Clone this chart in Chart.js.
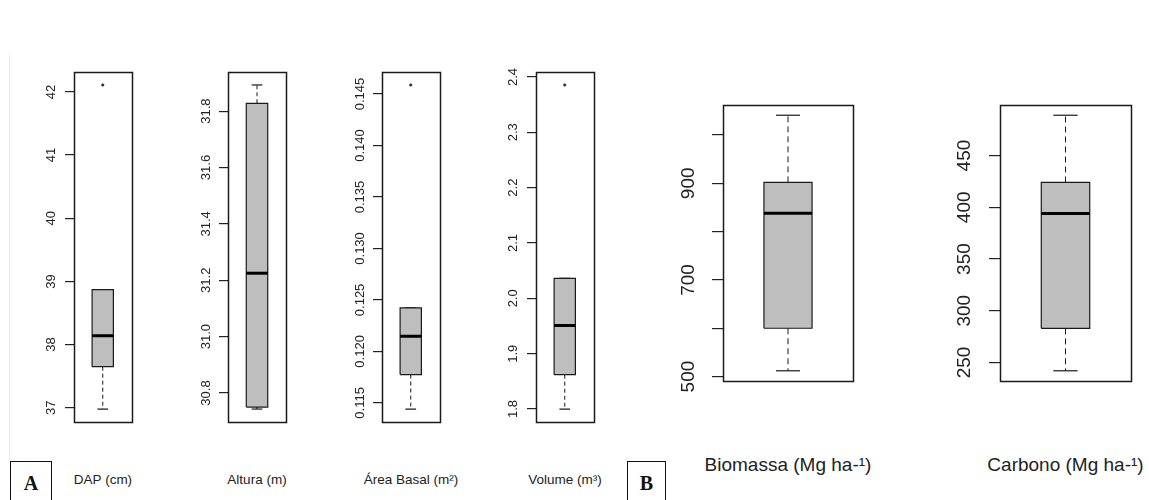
<!DOCTYPE html>
<html>
<head>
<meta charset="utf-8">
<script src="https://cdn.jsdelivr.net/npm/chart.js@4.4.1/dist/chart.umd.min.js"></script>
<style>
  body { margin: 0; width: 1149px; height: 500px; overflow: hidden; background: #fff; position: relative; font-family: "Liberation Sans", Arial, sans-serif; }
  .panel { position: absolute; }
  .lab { position: absolute; transform: translate(-50%, -50%); white-space: nowrap; color: #222; }
  .tag { position: absolute; box-sizing: border-box; border: 1.5px solid #111; font-family: "Liberation Serif", serif; font-weight: bold; font-size: 20px; color: #111; text-align: center; }
  .edge { position: absolute; left: 9px; top: 55px; width: 1px; height: 406px; background: #ececec; }
</style>
</head>
<body>
<div class="edge"></div>
<div class="tag" style="left:10px;top:461px;width:42px;height:44px;line-height:42px;">A</div>
<div class="tag" style="left:627px;top:461px;width:39px;height:44px;line-height:42px;">B</div>

<script>
// Variables (one boxplot each)
const variables = ["DAP (cm)", "Altura (m)", "Área Basal (m²)", "Volume (m³)", "Biomassa (Mg ha-¹)", "Carbono (Mg ha-¹)"];

// Five-number summaries
const lowerWhisker  = [36.98, 30.743, 0.1144, 1.80, 512, 242];
const firstQuartile = [37.65, 30.75, 0.11775, 1.862, 600, 283];
const medians       = [38.14, 31.225, 0.12147, 1.951, 838, 394];
const thirdQuartile = [38.87, 31.828, 0.12422, 2.036, 902, 424];
const upperWhisker  = [38.87, 31.893, 0.12422, 2.036, 1041, 489];
const outliers      = [[42.11], [], [0.14588], [2.3855], [], []];

// Y axis ticks
const tickValues = [
  [37, 38, 39, 40, 41, 42],
  [30.8, 31.0, 31.2, 31.4, 31.6, 31.8],
  [0.115, 0.120, 0.125, 0.130, 0.135, 0.140, 0.145],
  [1.8, 1.9, 2.0, 2.1, 2.2, 2.3, 2.4],
  [500, 600, 700, 800, 900, 1000],
  [250, 300, 350, 400, 450]
];
const tickLabels = [
  ["37", "38", "39", "40", "41", "42"],
  ["30.8", "31.0", "31.2", "31.4", "31.6", "31.8"],
  ["0.115", "0.120", "0.125", "0.130", "0.135", "0.140", "0.145"],
  ["1.8", "1.9", "2.0", "2.1", "2.2", "2.3", "2.4"],
  ["500", "", "700", "", "900", ""],
  ["250", "300", "350", "400", "450"]
];

// page layout of each plot frame
const frames = [
  { x: 74,   y: 72,  w: 58,  h: 350, axis: 40, font: 13, tick: 9,  gap: 23, dash: [4, 3], labY: 479, labSize: 13.5 },
  { x: 228,  y: 72,  w: 58,  h: 350, axis: 40, font: 13, tick: 9,  gap: 22, dash: [4, 3], labY: 479, labSize: 13.5 },
  { x: 382,  y: 72,  w: 58,  h: 350, axis: 40, font: 13, tick: 9,  gap: 22, dash: [4, 3], labY: 479, labSize: 13.5 },
  { x: 536,  y: 72,  w: 58,  h: 350, axis: 40, font: 13, tick: 9,  gap: 23, dash: [4, 3], labY: 479, labSize: 13.5 },
  { x: 723,  y: 105, w: 130, h: 276, axis: 62, font: 19, tick: 11, gap: 34, dash: [6, 4], labY: 465, labSize: 19 },
  { x: 1000, y: 105, w: 131, h: 276, axis: 62, font: 19, tick: 11, gap: 35, dash: [6, 4], labY: 465, labSize: 19 }
];

const measure = document.createElement('canvas').getContext('2d');

const framePlugin = {
  id: 'frame',
  afterDraw(chart) {
    const a = chart.chartArea, ctx = chart.ctx;
    ctx.save();
    ctx.strokeStyle = '#1a1a1a';
    ctx.lineWidth = 1.5;
    ctx.strokeRect(Math.round(a.left) + 0.5, Math.round(a.top) + 0.5, Math.round(a.right - a.left), Math.round(a.bottom - a.top));
    ctx.restore();
  }
};

function makeBoxplot(i) {
  const f = frames[i];
  const pad = 24;
  const W = f.axis + f.w + 4, H = f.h + 2 * pad;

  const wrap = document.createElement('div');
  wrap.className = 'panel';
  wrap.style.left = (f.x - f.axis) + 'px';
  wrap.style.top = (f.y - pad) + 'px';
  const canvas = document.createElement('canvas');
  canvas.width = W; canvas.height = H;
  canvas.style.width = W + 'px'; canvas.style.height = H + 'px';
  wrap.appendChild(canvas);
  document.body.appendChild(wrap);

  const lab = document.createElement('div');
  lab.className = 'lab';
  lab.textContent = variables[i];
  lab.style.left = (f.x + f.w / 2) + 'px';
  lab.style.top = f.labY + 'px';
  lab.style.fontSize = f.labSize + 'px';
  document.body.appendChild(lab);

  const lo = lowerWhisker[i], q1 = firstQuartile[i], med = medians[i], q3 = thirdQuartile[i], hi = upperWhisker[i];
  const all = [lo, hi].concat(outliers[i]);
  const dmin = Math.min(...all), dmax = Math.max(...all);
  const ext = (dmax - dmin) * 0.04;   // R's default axis extension

  measure.font = f.font + 'px "Liberation Sans"';
  const widest = Math.max(...tickLabels[i].map(t => measure.measureText(t).width));
  const tickPad = f.gap - f.tick - widest / 2;

  const c = 0.5, hw = 0.185, cw = 0.0925;
  const line = (pts, extra) => Object.assign({
    data: pts, borderColor: '#1a1a1a', borderWidth: 1.2, pointRadius: 0, fill: false, tension: 0
  }, extra);

  new Chart(canvas, {
    type: 'line',
    data: {
      datasets: [
        line([{ x: c - hw, y: med }, { x: c + hw, y: med }], { borderColor: '#000', borderWidth: 3, order: 0 }),
        { data: outliers[i].map(v => ({ x: c, y: v })), showLine: false, pointRadius: 1.3,
          pointBackgroundColor: '#333', pointBorderColor: '#333', pointBorderWidth: 0.5, order: 0 },
        line([{ x: c - hw, y: q1 }, { x: c - hw, y: q3 }, { x: c + hw, y: q3 }, { x: c + hw, y: q1 }, { x: c - hw, y: q1 }], { order: 1 }),
        line([{ x: c - hw, y: q3 }, { x: c + hw, y: q3 }], { borderWidth: 0, fill: { value: q1 }, backgroundColor: '#bebebe', order: 2 }),
        line([{ x: c, y: q3 }, { x: c, y: hi }], { borderWidth: 1, borderDash: f.dash, order: 3 }),
        line([{ x: c, y: q1 }, { x: c, y: lo }], { borderWidth: 1, borderDash: f.dash, order: 3 }),
        line([{ x: c - cw, y: hi }, { x: c + cw, y: hi }], { order: 3 }),
        line([{ x: c - cw, y: lo }, { x: c + cw, y: lo }], { order: 3 })
      ]
    },
    options: {
      responsive: false,
      animation: false,
      events: [],
      layout: { padding: { top: pad, bottom: pad, right: 4, left: 0 } },
      plugins: { legend: { display: false }, tooltip: { enabled: false } },
      scales: {
        x: { type: 'linear', min: 0, max: 1, display: false },
        y: {
          min: dmin - ext,
          max: dmax + ext,
          border: { display: false },
          grid: { drawOnChartArea: false, drawTicks: true, tickLength: f.tick, color: '#222', lineWidth: 1.2 },
          afterBuildTicks: scale => { scale.ticks = tickValues[i].map(v => ({ value: v })); },
          afterFit: scale => { scale.width = f.axis; scale.paddingTop = 0; scale.paddingBottom = 0; },
          ticks: {
            autoSkip: false,
            minRotation: 90,
            maxRotation: 90,
            crossAlign: 'center',
            padding: tickPad,
            color: '#222',
            font: { family: '"Liberation Sans"', size: f.font },
            callback: (value, index) => tickLabels[i][index]
          }
        }
      }
    },
    plugins: [framePlugin]
  });
}

variables.forEach((v, i) => makeBoxplot(i));
</script>
</body>
</html>
